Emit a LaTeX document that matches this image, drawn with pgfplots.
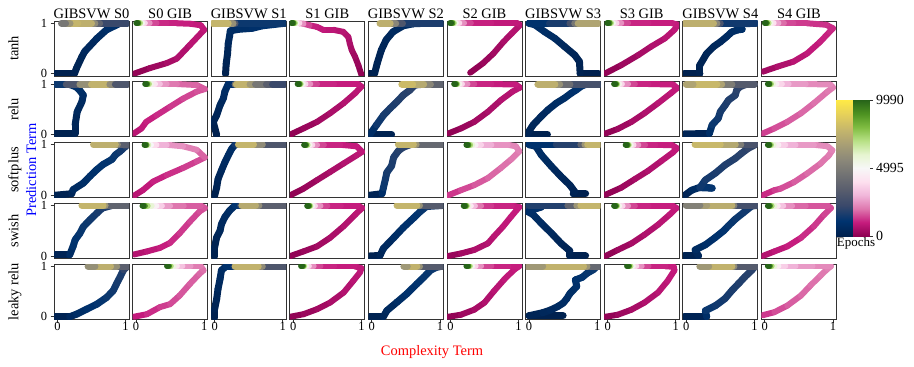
\documentclass[border=0pt]{standalone}
\usepackage{fontspec}
\setmainfont{Liberation Serif}
\usepackage{pgfplots}
\pgfplotsset{compat=1.18}
\newcommand{\fs}[1]{\fontsize{#1}{#1}\selectfont}
\pgfplotsset{
 colormap={cividis}{rgb255=(0,32,77) rgb255=(0,51,111) rgb255=(57,72,107) rgb255=(87,92,109) rgb255=(112,113,115) rgb255=(138,135,121) rgb255=(166,157,117) rgb255=(196,181,108) rgb255=(228,207,91) rgb255=(255,234,70)},
 colormap={PiYG}{rgb255=(142,1,82) rgb255=(197,27,125) rgb255=(222,119,174) rgb255=(241,182,218) rgb255=(253,224,239) rgb255=(247,247,247) rgb255=(230,245,208) rgb255=(184,225,134) rgb255=(127,188,65) rgb255=(77,146,33) rgb255=(39,100,25)},
 pan/.style={width=75bp, height=55bp, scale only axis, anchor=south west,
   xmin=-0.05, xmax=1.05, ymin=-0.045, ymax=1.045, xtick=\empty, ytick=\empty,
   axis line style={black!80, line width=0.8bp}, tick align=outside, tick pos=left,
   major tick length=3.5bp, tick style={black!80, line width=0.8bp},
   tick label style={font=\fs{12.5}, inner ysep=0pt}, /pgf/number format/assume math mode=true,
   point meta min=0, point meta max=9990},
}
\newcommand{\svw}[4]{%
\begin{axis}[pan, at={({54bp+78.6bp*#1},{290bp-60.75bp*#2})}, colormap name=cividis, #3]
\addplot[mesh, point meta=explicit, line width=7bp, line cap=round, line join=round] coordinates {#4};
\end{axis}}
\newcommand{\gib}[4]{%
\begin{axis}[pan, at={({54bp+78.6bp*#1},{290bp-60.75bp*#2})}, colormap name=PiYG, #3]
\addplot[mesh, point meta=explicit, line width=6bp, line cap=round, line join=round] coordinates {#4};
\end{axis}}
\begin{document}
\begin{tikzpicture}[x=1bp, y=1bp]
\path[use as bounding box] (0,0) rectangle (914,366);
% ---------------- row 0 : tanh
\svw{0}{0}{ytick={0,1}}{(-0.03,0)[0] (0.25,0)[100] (0.28,0.11)[200] (0.36,0.34)[350] (0.40,0.44)[450] (0.58,0.70)[650] (0.72,0.87)[800] (0.92,1)[1000] (1.02,1)[1500] (0.62,1)[3000] (0.55,1)[4500] (0.5,1)[7000] (0.3,1)[8000] (0.185,1)[7500] (0.12,1)[5000] (0.06,1)[4500]}
\gib{1}{0}{}{(-0.03,0)[0] (0.2,0.11)[200] (0.45,0.21)[400] (0.6,0.3)[550] (0.79,0.57)[700] (1.0,0.87)[850] (0.95,0.96)[950] (0.8,0.99)[1000] (0.6,1)[1050] (0.45,1)[1100] (0.3,1)[1200] (0.2,1)[1800] (0.13,1)[3000] (0.09,1)[4500] (0.06,1)[6000] (0.035,1)[8000] (0.02,1)[9990] (0.005,1)[9990]}
\svw{2}{0}{}{(0.16,-0.01)[0] (0.17,0.2)[150] (0.19,0.4)[300] (0.2,0.6)[450] (0.22,0.75)[600] (0.23,0.85)[700] (0.35,0.88)[800] (0.55,0.9)[900] (0.7,0.95)[1000] (1.03,1)[1200] (0.3,1)[1500] (0.27,1)[4500] (0.2,1)[7500] (-0.03,1)[8000]}
\gib{3}{0}{}{(1.0,-0.02)[0] (0.955,0.17)[150] (0.906,0.34)[300] (0.858,0.47)[400] (0.83,0.6)[500] (0.808,0.73)[600] (0.735,0.83)[700] (0.59,0.87)[800] (0.44,0.87)[900] (0.345,0.93)[1000] (0.24,0.96)[1100] (0.15,0.99)[1800] (0.09,1)[3000] (0.05,1)[4500] (0.025,1)[6000] (0.005,1)[8000] (-0.01,1)[9990] (-0.025,1)[9990]}
\svw{4}{0}{}{(-0.03,0)[0] (0.04,0)[100] (0.08,0.21)[200] (0.14,0.47)[300] (0.21,0.67)[400] (0.31,0.83)[500] (0.46,0.95)[650] (0.61,0.99)[800] (0.8,1)[1000] (1.03,1)[1300] (0.45,1)[2000] (0.35,1)[4000] (0.27,1)[7000] (0.12,1)[8000]}
\gib{5}{0}{}{(0.29,0.02)[0] (0.48,0.21)[150] (0.63,0.4)[300] (0.78,0.635)[450] (0.9,0.8)[600] (1.02,0.965)[750] (0.98,1)[850] (0.6,1)[1000] (0.3,1)[1100] (0.2,1)[1800] (0.13,1)[3000] (0.08,1)[4500] (0.05,1)[6000] (0.03,1)[8000] (0.01,1)[9990] (-0.005,1)[9990]}
\svw{6}{0}{}{(1.02,0)[0] (0.75,0)[100] (0.74,0.24)[200] (0.67,0.37)[300] (0.52,0.54)[450] (0.38,0.7)[600] (0.23,0.83)[750] (0.085,0.97)[850] (0,1)[900] (0.3,1)[1200] (0.6,1)[2000] (0.67,1)[3500] (0.72,1)[6000] (1.02,1)[8000]}
\gib{7}{0}{}{(-0.03,0.01)[0] (0.2,0.17)[200] (0.45,0.37)[400] (0.64,0.54)[550] (0.84,0.7)[700] (0.98,0.87)[850] (1.03,0.97)[950] (0.95,1)[1000] (0.6,1)[1050] (0.3,1)[1150] (0.2,1)[1800] (0.13,1)[3000] (0.08,1)[4500] (0.05,1)[6000] (0.03,1)[8000] (0.01,1)[9990] (-0.005,1)[9990]}
\svw{8}{0}{}{(-0.03,0)[0] (0.2,0)[100] (0.2,0.17)[200] (0.3,0.4)[300] (0.4,0.535)[400] (0.5,0.63)[500] (0.59,0.73)[600] (0.67,0.83)[700] (0.76,0.87)[800] (0.82,0.88)[850] (0.75,0.95)[900] (0.85,0.99)[950] (1.02,1)[1100] (0.5,1)[1800] (0.45,1)[4000] (0.4,1)[7000] (-0.03,1)[8000]}
\gib{9}{0}{}{(-0.03,0.04)[300] (0.185,0.14)[500] (0.42,0.24)[700] (0.62,0.4)[850] (0.81,0.63)[1000] (0.95,0.83)[1100] (1.0,0.9)[1150] (0.9,0.97)[1200] (0.62,1)[1300] (0.42,1)[1400] (0.28,1)[1600] (0.2,1)[2200] (0.13,1)[3300] (0.085,1)[4700] (0.055,1)[6000] (0.03,1)[8000] (0.015,1)[9990] (0.0,1)[9990]}
% ---------------- row 1 : relu
\svw{0}{1}{ytick={0,1}}{(-0.03,0.02)[0] (0.26,0.02)[200] (0.26,0.19)[300] (0.29,0.45)[450] (0.36,0.65)[600] (0.38,0.78)[700] (0.33,0.87)[800] (0.28,0.94)[900] (0.16,1)[1000] (-0.02,1)[1200] (0.13,1)[1500] (0.33,1)[4500] (0.5,1)[7500] (0.77,1)[7800] (0.85,1)[3500] (1.03,1)[2500]}
\gib{1}{1}{}{(-0.03,0.02)[700] (0.08,0.12)[850] (0.15,0.25)[1000] (0.3,0.38)[1100] (0.5,0.55)[1250] (0.69,0.71)[1400] (0.89,0.85)[1550] (1.01,0.9)[1650] (0.89,0.98)[1750] (0.6,1)[1900] (0.45,1)[2200] (0.35,1)[2800] (0.28,1)[3700] (0.22,1)[4800] (0.19,1)[6000] (0.165,1)[8000] (0.15,1)[9990] (0.135,1)[9990]}
\svw{2}{1}{}{(0.03,-0.01)[0] (-0.02,0.25)[150] (0.03,0.38)[300] (0.08,0.58)[450] (0.13,0.72)[600] (0.15,0.85)[700] (0.2,1)[800] (0.3,1)[1000] (0.32,1)[7500] (0.52,1)[7800] (0.6,1)[5000] (0.76,1)[4500] (0.85,1)[2500] (1.03,1)[2000]}
\gib{3}{1}{}{(-0.04,0)[0] (0.15,0.12)[150] (0.35,0.25)[300] (0.54,0.42)[450] (0.74,0.62)[600] (0.91,0.82)[750] (1.0,0.95)[850] (0.95,1)[950] (0.6,1)[1050] (0.35,1)[1150] (0.25,1)[1800] (0.18,1)[3000] (0.14,1)[4500] (0.11,1)[6000] (0.095,1)[8000] (0.08,1)[9990] (0.065,1)[9990]}
\svw{4}{1}{}{(0.29,0)[0] (-0.03,0)[300] (0.07,0.19)[1300] (0.17,0.38)[1500] (0.27,0.52)[1600] (0.37,0.65)[1700] (0.46,0.78)[1800] (0.56,0.88)[1900] (0.63,0.98)[2000] (0.8,1)[2500] (1.03,1)[3000] (0.86,1)[4500] (0.76,1)[6500] (0.6,1)[8000] (0.44,1)[8000]}
\gib{5}{1}{}{(-0.03,0.02)[0] (0.155,0.12)[150] (0.35,0.25)[300] (0.55,0.45)[450] (0.74,0.68)[600] (0.91,0.85)[750] (1.02,0.93)[850] (0.96,0.99)[950] (0.6,1)[1050] (0.35,1)[1150] (0.25,1)[1800] (0.17,1)[3000] (0.13,1)[4500] (0.1,1)[6000] (0.085,1)[8000] (0.07,1)[9990] (0.055,1)[9990]}
\svw{6}{1}{}{(0.27,0)[0] (-0.03,0)[200] (0.06,0.19)[400] (0.18,0.36)[500] (0.28,0.49)[600] (0.4,0.62)[700] (0.52,0.72)[800] (0.62,0.82)[900] (0.69,0.88)[1000] (0.77,0.96)[1100] (0.85,1)[1300] (1.03,1)[2000] (0.6,1)[3500] (0.45,1)[5000] (0.38,1)[7000] (0.13,1)[8000]}
\gib{7}{1}{}{(-0.03,0.02)[0] (0.15,0.11)[200] (0.35,0.25)[400] (0.54,0.42)[550] (0.74,0.62)[700] (0.93,0.82)[850] (1.02,0.92)[950] (0.96,0.99)[1000] (0.6,1)[1050] (0.4,1)[1150] (0.3,1)[1800] (0.21,1)[3000] (0.17,1)[4500] (0.14,1)[6000] (0.125,1)[8000] (0.11,1)[9990] (0.095,1)[9990]}
\svw{8}{1}{}{(-0.03,0.01)[0] (0.34,0.02)[500] (0.38,0.19)[1200] (0.47,0.32)[1400] (0.5,0.45)[1500] (0.57,0.58)[1600] (0.62,0.68)[1700] (0.72,0.78)[1800] (0.74,0.88)[1900] (0.79,0.95)[2000] (0.9,1)[2200] (1.0,1)[2500] (0.67,1)[4000] (0.52,1)[6000] (0.45,1)[7800] (0.1,1)[8000] (0.0,1)[6000]}
\gib{9}{1}{}{(-0.03,0.02)[1300] (0.14,0.12)[1500] (0.33,0.25)[1650] (0.53,0.42)[1800] (0.72,0.62)[1900] (0.92,0.85)[2000] (1.0,0.93)[2100] (0.96,0.99)[2200] (0.6,1)[2400] (0.35,1)[2700] (0.25,1)[3300] (0.17,1)[4200] (0.12,1)[5000] (0.09,1)[6500] (0.07,1)[8000] (0.06,1)[9990] (0.045,1)[9990]}
% ---------------- row 2 : softplus
\svw{0}{2}{ytick={0,1}}{(-0.03,0)[0] (0.21,0.03)[300] (0.23,0.11)[600] (0.38,0.24)[800] (0.48,0.38)[900] (0.58,0.51)[1000] (0.67,0.61)[1100] (0.8,0.71)[1200] (0.85,0.8)[1300] (0.92,0.87)[1400] (1.0,0.97)[1600] (1.03,1)[2500] (0.88,1)[4500] (0.85,1)[7000] (0.53,1)[8000]}
\gib{1}{2}{}{(-0.03,-0.01)[700] (0.1,0.1)[850] (0.25,0.27)[1000] (0.45,0.4)[1150] (0.69,0.54)[1300] (0.89,0.67)[1450] (1.01,0.75)[1600] (0.89,0.9)[2000] (0.69,0.97)[2300] (0.45,1)[2600] (0.3,1)[3300] (0.22,1)[4500] (0.18,1)[5500] (0.155,1)[7000] (0.14,1)[9990] (0.125,1)[9990]}
\svw{2}{2}{}{(0.0,-0.01)[0] (0.03,0.15)[150] (0.05,0.32)[300] (0.1,0.49)[450] (0.15,0.65)[600] (0.2,0.79)[700] (0.25,0.92)[800] (0.3,1)[900] (1.03,1)[2000] (0.7,1)[4000] (0.57,1)[7500] (0.35,1)[8000]}
\gib{3}{2}{}{(-0.04,0)[0] (0.15,0.13)[150] (0.35,0.3)[300] (0.54,0.46)[450] (0.74,0.63)[600] (0.93,0.79)[750] (1.01,0.86)[850] (0.93,0.97)[950] (0.69,1)[1050] (0.45,1)[1150] (0.35,1)[1800] (0.28,1)[3000] (0.24,1)[4500] (0.21,1)[6000] (0.19,1)[8000] (0.175,1)[9990] (0.16,1)[9990]}
\svw{4}{2}{}{(-0.03,0)[0] (0.15,0.03)[500] (0.17,0.15)[1300] (0.2,0.32)[1400] (0.22,0.45)[1500] (0.29,0.58)[1600] (0.32,0.75)[1700] (0.39,0.88)[1800] (0.46,0.95)[1900] (0.56,1)[2000] (1.03,1)[3000] (0.65,1)[5000] (0.61,1)[7500] (0.39,1)[8000]}
\gib{5}{2}{}{(-0.03,0)[1200] (0.155,0.1)[1400] (0.35,0.2)[1600] (0.55,0.34)[1750] (0.74,0.54)[1900] (0.89,0.71)[2000] (1.01,0.87)[2100] (0.96,0.97)[2200] (0.84,1)[2300] (0.6,1)[2600] (0.45,1)[3200] (0.37,1)[4200] (0.32,1)[5200] (0.29,1)[6500] (0.265,1)[8000] (0.25,1)[9990] (0.235,1)[9990]}
\svw{6}{2}{}{(0.83,0.03)[0] (0.65,0.03)[100] (0.67,0.07)[200] (0.6,0.2)[300] (0.47,0.37)[400] (0.33,0.57)[550] (0.18,0.8)[700] (0.1,0.97)[800] (0.0,1)[900] (0.4,1)[1200] (0.76,1)[2500] (0.82,1)[5000] (0.86,1)[7500] (1.03,1)[8000]}
\gib{7}{2}{}{(-0.03,0.01)[0] (0.2,0.15)[200] (0.4,0.32)[400] (0.59,0.48)[550] (0.79,0.68)[700] (0.96,0.85)[850] (1.02,0.93)[950] (0.95,0.99)[1000] (0.7,1)[1050] (0.55,1)[1150] (0.45,1)[1800] (0.38,1)[3000] (0.34,1)[4500] (0.31,1)[6000] (0.295,1)[8000] (0.28,1)[9990] (0.265,1)[9990]}
\svw{8}{2}{}{(-0.02,0)[0] (0.08,0.1)[500] (0.23,0.17)[900] (0.38,0.14)[1100] (0.2,0.15)[1300] (0.28,0.3)[1500] (0.43,0.44)[1600] (0.57,0.6)[1700] (0.72,0.73)[1800] (0.81,0.83)[1900] (0.91,0.93)[2000] (1.01,1)[2200] (0.8,1)[3500] (0.72,1)[6500] (0.5,1)[7800] (0.13,1)[8000]}
\gib{9}{2}{}{(-0.03,0)[1000] (0.14,0.1)[1300] (0.23,0.13)[1450] (0.43,0.26)[1650] (0.62,0.43)[1800] (0.82,0.63)[1950] (0.94,0.79)[2050] (0.99,0.89)[2150] (0.92,0.97)[2250] (0.72,1)[2400] (0.45,1)[2700] (0.3,1)[3200] (0.2,1)[4000] (0.13,1)[5000] (0.09,1)[6500] (0.07,1)[8000] (0.06,1)[9990] (0.045,1)[9990]}
% ---------------- row 3 : swish
\svw{0}{3}{ytick={0,1}}{(-0.03,0.02)[0] (0.18,0.02)[500] (0.23,0.19)[1000] (0.26,0.32)[1100] (0.33,0.45)[1200] (0.38,0.58)[1300] (0.48,0.72)[1400] (0.58,0.85)[1500] (0.66,0.95)[1600] (0.8,1)[1800] (1.03,1)[2500] (0.7,1)[5000] (0.67,1)[7500] (0.36,1)[8000]}
\gib{1}{3}{}{(-0.03,0.03)[600] (0.16,0.09)[800] (0.35,0.16)[950] (0.5,0.26)[1100] (0.64,0.45)[1250] (0.79,0.68)[1400] (0.93,0.88)[1500] (1.01,0.95)[1600] (0.95,1)[1650] (0.7,1)[1800] (0.5,1)[2200] (0.38,1)[3000] (0.3,1)[4200] (0.23,1)[5200] (0.17,1)[6500] (0.13,1)[8000] (0.11,1)[9990] (0.095,1)[9990]}
\svw{2}{3}{}{(0.0,-0.01)[0] (0.0,0.17)[150] (0.03,0.37)[300] (0.08,0.5)[450] (0.1,0.63)[550] (0.15,0.77)[650] (0.22,0.9)[750] (0.3,1)[850] (0.38,1)[1500] (1.03,1)[2500] (0.65,1)[4500] (0.6,1)[7000] (0.4,1)[7500]}
\gib{3}{3}{}{(-0.04,0)[0] (0.15,0.09)[150] (0.35,0.19)[300] (0.54,0.36)[450] (0.74,0.59)[600] (0.91,0.82)[750] (1.01,0.95)[850] (0.95,1)[950] (0.7,1)[1050] (0.5,1)[1150] (0.4,1)[1800] (0.32,1)[3000] (0.28,1)[4500] (0.25,1)[6000] (0.235,1)[8000] (0.22,1)[9990] (0.205,1)[9990]}
\svw{4}{3}{}{(-0.03,0)[0] (0.12,0.01)[300] (0.17,0.15)[500] (0.32,0.36)[700] (0.46,0.56)[900] (0.61,0.75)[1100] (0.71,0.88)[1200] (0.8,0.98)[1300] (1.03,1)[2000] (0.7,1)[4500] (0.66,1)[7500] (0.37,1)[8000]}
\gib{5}{3}{}{(-0.03,0)[100] (0.155,0.05)[300] (0.35,0.12)[500] (0.55,0.25)[650] (0.64,0.39)[750] (0.77,0.58)[850] (0.89,0.78)[950] (1.01,0.97)[1000] (0.9,1)[1050] (0.6,1)[1150] (0.45,1)[1500] (0.36,1)[2500] (0.3,1)[3800] (0.26,1)[5000] (0.24,1)[6500] (0.225,1)[8000] (0.21,1)[9990] (0.195,1)[9990]}
\svw{6}{3}{}{(0.83,0)[0] (0.6,0)[100] (0.6,0.1)[200] (0.47,0.25)[300] (0.33,0.45)[450] (0.18,0.65)[600] (0.06,0.82)[750] (-0.02,0.88)[850] (0.18,0.97)[950] (0.0,1)[1050] (0.57,1)[2500] (0.7,1)[5000] (0.76,1)[7500] (1.03,1)[8000]}
\gib{7}{3}{}{(-0.03,0)[0] (0.15,0.12)[200] (0.35,0.25)[400] (0.54,0.42)[550] (0.74,0.62)[700] (0.91,0.82)[850] (1.01,0.95)[950] (0.95,1)[1000] (0.6,1)[1050] (0.4,1)[1150] (0.3,1)[1800] (0.22,1)[3000] (0.17,1)[4500] (0.14,1)[6000] (0.125,1)[8000] (0.11,1)[9990] (0.095,1)[9990]}
\svw{8}{3}{}{(-0.03,0)[0] (0.18,0)[300] (0.13,0.12)[600] (0.28,0.22)[800] (0.42,0.36)[1000] (0.55,0.5)[1100] (0.62,0.6)[1200] (0.72,0.73)[1300] (0.84,0.86)[1400] (0.96,0.99)[1500] (1.03,1)[1800] (0.7,1)[3500] (0.67,1)[7000] (0.3,1)[7800] (0.2,1)[5500] (0.0,1)[5000]}
\gib{9}{3}{}{(-0.03,0)[600] (0.14,0.09)[800] (0.33,0.19)[950] (0.53,0.36)[1100] (0.72,0.59)[1250] (0.87,0.82)[1400] (0.97,0.95)[1500] (0.92,1)[1550] (0.6,1)[1700] (0.4,1)[2000] (0.27,1)[2800] (0.19,1)[3800] (0.14,1)[5000] (0.1,1)[6500] (0.075,1)[8000] (0.06,1)[9990] (0.045,1)[9990]}
% ---------------- row 4 : leaky relu
\svw{0}{4}{ytick={0,1}, xtick={0,1}}{(-0.03,0)[0] (0.18,0)[400] (0.28,0.05)[700] (0.43,0.15)[900] (0.58,0.25)[1100] (0.72,0.38)[1300] (0.82,0.52)[1400] (0.87,0.66)[1500] (0.92,0.79)[1600] (0.97,0.93)[1700] (1.03,1)[2500] (0.87,1)[4500] (0.78,1)[7500] (0.55,1)[7500] (0.45,1)[4500]}
\gib{1}{4}{xtick={0,1}}{(-0.03,0)[900] (0.16,0.05)[1100] (0.35,0.19)[1300] (0.5,0.25)[1450] (0.64,0.42)[1600] (0.79,0.65)[1700] (0.93,0.85)[1800] (0.99,0.92)[1900] (0.95,1)[2000] (0.8,1)[2200] (0.68,1)[2800] (0.6,1)[3800] (0.55,1)[4800] (0.51,1)[6300] (0.485,1)[8000] (0.47,1)[9990] (0.455,1)[9990]}
\svw{2}{4}{xtick={0,1}}{(0.0,-0.02)[0] (0.0,0.15)[150] (0.03,0.35)[300] (0.05,0.55)[450] (0.08,0.75)[600] (0.1,0.92)[700] (0.17,1)[800] (0.28,1)[1200] (1.03,1)[2000] (0.7,1)[4000] (0.64,1)[7500] (0.3,1)[7800]}
\gib{3}{4}{xtick={0,1}}{(-0.04,0)[0] (0.15,0.05)[150] (0.35,0.15)[300] (0.54,0.28)[450] (0.74,0.48)[600] (0.88,0.71)[750] (0.98,0.88)[850] (1.0,0.96)[900] (0.9,1)[950] (0.6,1)[1050] (0.4,1)[1150] (0.3,1)[1800] (0.23,1)[3000] (0.19,1)[4500] (0.16,1)[6000] (0.145,1)[8000] (0.13,1)[9990] (0.115,1)[9990]}
\svw{4}{4}{xtick={0,1}}{(-0.03,0)[0] (0.17,0)[300] (0.22,0.12)[500] (0.37,0.29)[700] (0.51,0.45)[900] (0.66,0.65)[1100] (0.76,0.78)[1200] (0.86,0.92)[1300] (0.95,0.98)[1400] (1.03,1)[2000] (0.7,1)[4500] (0.66,1)[7500] (0.52,1)[7800] (0.47,1)[5000]}
\gib{5}{4}{xtick={0,1}}{(-0.03,0)[0] (0.155,0.04)[200] (0.35,0.14)[400] (0.5,0.28)[550] (0.64,0.51)[700] (0.79,0.74)[850] (0.94,0.94)[950] (1.01,1)[1000] (0.85,1)[1050] (0.6,1)[1150] (0.45,1)[1800] (0.37,1)[3000] (0.32,1)[4500] (0.285,1)[6000] (0.265,1)[8000] (0.25,1)[9990] (0.235,1)[9990]}
\svw{6}{4}{xtick={0,1}}{(0.5,0.02)[0] (0.0,0.02)[200] (0.2,0.08)[400] (0.31,0.13)[500] (0.42,0.2)[600] (0.5,0.27)[700] (0.55,0.35)[750] (0.6,0.46)[800] (0.7,0.6)[900] (0.68,0.73)[1000] (0.78,0.78)[1100] (0.85,0.86)[1200] (0.94,0.93)[1300] (1.0,1)[1400] (1.03,1)[3000] (0.85,1)[5000] (0.8,1)[7500] (0.2,1)[7800] (-0.03,1)[5000]}
\gib{7}{4}{xtick={0,1}}{(-0.03,0)[0] (0.15,0.04)[200] (0.35,0.14)[400] (0.54,0.28)[550] (0.74,0.48)[700] (0.88,0.71)[850] (0.98,0.92)[950] (0.97,0.99)[1000] (0.85,1)[1050] (0.6,1)[1150] (0.5,1)[1800] (0.42,1)[3000] (0.37,1)[4500] (0.335,1)[6000] (0.315,1)[8000] (0.3,1)[9990] (0.285,1)[9990]}
\svw{8}{4}{xtick={0,1}}{(-0.03,0)[0] (0.3,0)[500] (0.28,0.12)[1200] (0.43,0.22)[1400] (0.57,0.36)[1500] (0.67,0.52)[1600] (0.77,0.66)[1700] (0.86,0.79)[1800] (0.96,0.92)[1900] (1.01,1)[2000] (1.03,1)[2500] (0.7,1)[4000] (0.67,1)[7500] (0.33,1)[7800] (0.2,1)[5000]}
\gib{9}{4}{xtick={0,1}}{(-0.03,0.03)[1200] (0.14,0.09)[1450] (0.33,0.22)[1650] (0.53,0.42)[1800] (0.67,0.62)[1900] (0.82,0.82)[2000] (0.92,0.95)[2100] (0.97,1)[2200] (0.7,1)[2400] (0.45,1)[2700] (0.3,1)[3200] (0.2,1)[4000] (0.14,1)[5000] (0.1,1)[6500] (0.075,1)[8000] (0.06,1)[9990] (0.045,1)[9990]}
% ---------------- colorbars
\begin{axis}[at={(836bp,130bp)}, anchor=south west, width=16bp, height=136bp, scale only axis,
  xmin=0, xmax=1, ymin=0, ymax=9990, xtick=\empty, ytick=\empty, colormap name=cividis,
  point meta min=0, point meta max=9990, axis line style={black!80, line width=0.8bp}]
\addplot[surf, shader=interp, mesh/rows=2, point meta=y] coordinates {(0,0) (1,0) (0,9990) (1,9990)};
\end{axis}
\begin{axis}[at={(853bp,130bp)}, anchor=south west, width=16bp, height=136bp, scale only axis,
  xmin=0, xmax=1, ymin=0, ymax=9990, xtick=\empty, ytick={0,4995,9990}, yticklabels={0,4995,9990},
  ytick pos=right, yticklabel pos=right, tick align=outside, major tick length=3.5bp,
  tick style={black!80, line width=0.8bp}, yticklabel style={font=\fs{14}},
  colormap name=PiYG, point meta min=0, point meta max=9990, axis line style={black!80, line width=0.8bp}]
\addplot[surf, shader=interp, mesh/rows=2, point meta=y] coordinates {(0,0) (1,0) (0,9990) (1,9990)};
\end{axis}
\node[font=\fs{13}, anchor=base] at (856,119.5) {Epochs};
% ---------------- titles and labels
\foreach \c/\t in {0/GIBSVW S0,1/S0 GIB,2/GIBSVW S1,3/S1 GIB,4/GIBSVW S2,5/S2 GIB,6/GIBSVW S3,7/S3 GIB,8/GIBSVW S4,9/S4 GIB}
  \node[font=\fs{14.5}, anchor=base, inner sep=0pt] at ({91.5+78.6*\c},347.7) {\t};
\foreach \r/\t in {0/tanh,1/relu,2/softplus,3/swish,4/leaky relu}
  \node[font=\fs{14.5}, rotate=90, anchor=base, inner sep=0pt] at (18.3,{317.5-60.75*\r}) {\t};
\node[font=\fs{14.5}, rotate=90, anchor=base, inner sep=0pt, text=blue] at (36,196) {Prediction Term};
\node[font=\fs{14.5}, anchor=base, inner sep=0pt, text=red] at (432,10.5) {Complexity Term};
\end{tikzpicture}
\end{document}
